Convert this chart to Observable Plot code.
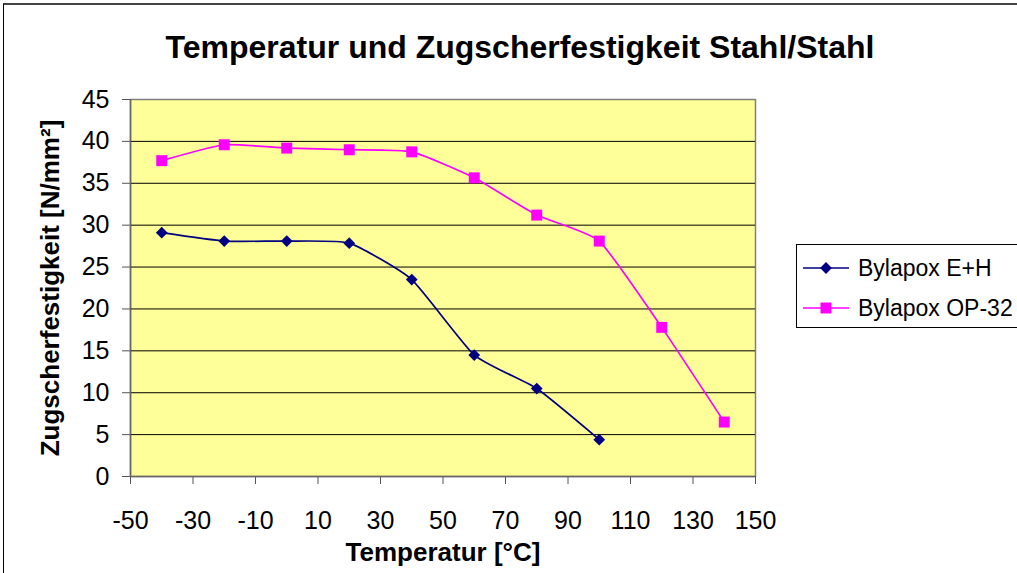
<!DOCTYPE html>
<html><head><meta charset="utf-8">
<script src="https://cdn.jsdelivr.net/npm/d3@7"></script>
<script src="https://cdn.jsdelivr.net/npm/@observablehq/plot@0.6"></script>
<style>
body{margin:0;background:#fff;font-family:"Liberation Sans",Arial,sans-serif;}
#wrap{position:relative;width:1017px;height:573px;overflow:hidden;}
#wrap svg.plot{position:absolute;left:0;top:0;}
#border{position:absolute;left:3px;top:3px;width:1030px;height:600px;border-top:2px solid #444;border-left:1px solid #000;}
#title{position:absolute;left:0;top:27px;width:1040px;text-align:center;font-weight:bold;font-size:32px;line-height:40px;color:#000;}
#legend{position:absolute;left:796px;top:244px;width:240px;height:82px;border:1px solid #000;background:#fff;}
.row{position:absolute;left:0;height:30px;display:flex;align-items:center;font-size:23px;white-space:nowrap;}
.row svg{margin-left:6px;margin-right:9px;}
</style></head>
<body>
<div id="wrap">
  <div id="border"></div>
  <div id="title">Temperatur und Zugscherfestigkeit Stahl/Stahl</div>
</div>
<script>
const seriesNames = ["Bylapox E+H", "Bylapox OP-32"];
const tempsEH = [-40, -20, 0, 20, 40, 60, 80, 100];
const valuesEH = [29.1, 28.1, 28.1, 27.85, 23.5, 14.5, 10.5, 4.4];
const tempsOP = [-40, -20, 0, 20, 40, 60, 80, 100, 120, 140];
const valuesOP = [37.7, 39.6, 39.2, 39.0, 38.75, 35.65, 31.2, 28.1, 17.8, 6.5];
const xTicks = [-50, -30, -10, 10, 30, 50, 70, 90, 110, 130, 150];
const yTicks = [0, 5, 10, 15, 20, 25, 30, 35, 40, 45];
const xLabel = "Temperatur [°C]";
const yLabel = "Zugscherfestigkeit [N/mm²]";

const colors = ["#000080", "#FF00FF"];
const dataEH = tempsEH.map((t, i) => ({t, v: valuesEH[i]}));
const dataOP = tempsOP.map((t, i) => ({t, v: valuesOP[i]}));

const chart = Plot.plot({
  width: 1017, height: 573,
  marginLeft: 130, marginRight: 262, marginTop: 99, marginBottom: 97,
  x: {domain: [-50, 150]},
  y: {domain: [0, 45]},
  style: {fontFamily: "Liberation Sans, Arial, sans-serif", fontSize: "25px", color: "#000", background: "transparent", overflow: "visible"},
  marks: [
    Plot.frame({fill: "#FFFF99", stroke: "#808080", strokeWidth: 1.5}),
    Plot.ruleY(yTicks.filter(d => d > 0 && d < 45), {stroke: "#000", strokeWidth: 1}),
    Plot.axisX({ticks: xTicks, tickSize: 8, tickPadding: 27, tickFormat: d => String(d), label: null, stroke: "#555"}),
    Plot.axisY({ticks: yTicks, tickSize: 8, tickPadding: 13, tickFormat: d => String(d), label: null, stroke: "#555"}),
    Plot.ruleX([-50], {stroke: "#666", strokeWidth: 1.5}),
    Plot.ruleY([0], {stroke: "#666", strokeWidth: 1.5}),
    Plot.line(dataEH, {x: "t", y: "v", curve: "cardinal", tension: 0.5, stroke: colors[0], strokeWidth: 1.7}),
    Plot.dot(dataEH, {x: "t", y: "v", symbol: "diamond2", r: 5.3, fill: colors[0], stroke: "none"}),
    Plot.line(dataOP, {x: "t", y: "v", curve: "cardinal", tension: 0.5, stroke: colors[1], strokeWidth: 1.7}),
    Plot.dot(dataOP, {x: "t", y: "v", symbol: "square", r: 6.2, fill: colors[1], stroke: "none"}),
    Plot.text([xLabel], {text: d => d, frameAnchor: "bottom", dy: 76, lineAnchor: "middle", textAnchor: "middle", fontWeight: "bold", fontSize: 26}),
    Plot.text([yLabel], {text: d => d, frameAnchor: "left", dx: -80, rotate: -90, lineAnchor: "middle", textAnchor: "middle", fontWeight: "bold", fontSize: 26})
  ]
});
chart.classList.add("plot");
const wrap = document.getElementById("wrap");
wrap.insertBefore(chart, wrap.firstChild);

// legend
const legend = document.createElement("div");
legend.id = "legend";
const symbols = [d3.symbolDiamond2, d3.symbolSquare];
const sizes = [Math.PI * 5.3 * 5.3, Math.PI * 6.2 * 6.2];
seriesNames.forEach((name, i) => {
  const row = document.createElement("div");
  row.className = "row";
  row.style.top = (8 + i * 40) + "px";
  const s = d3.create("svg").attr("width", 46).attr("height", 20);
  s.append("line").attr("x1", 0).attr("x2", 46).attr("y1", 10).attr("y2", 10).attr("stroke", colors[i]).attr("stroke-width", 1.7);
  s.append("path").attr("d", d3.symbol(symbols[i], sizes[i])()).attr("transform", "translate(23,10)").attr("fill", colors[i]);
  row.appendChild(s.node());
  const txt = document.createElement("span");
  txt.textContent = name;
  row.appendChild(txt);
  legend.appendChild(row);
});
wrap.appendChild(legend);
</script>
</body></html>
